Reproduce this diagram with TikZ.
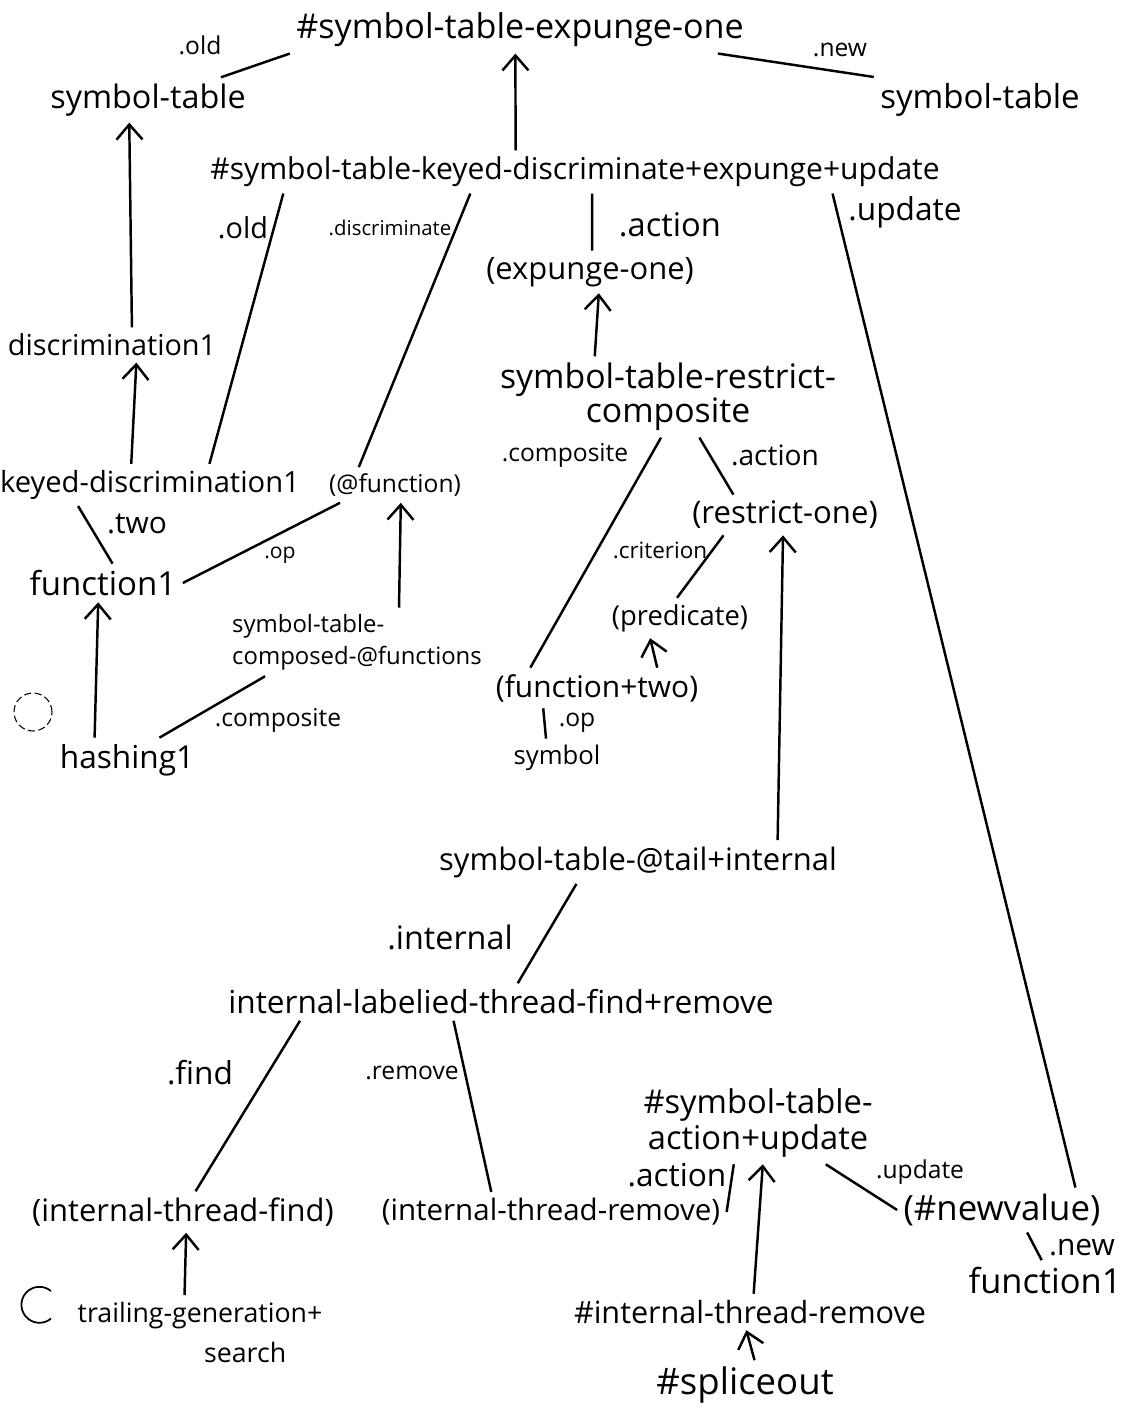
\documentclass[tikz,border=0pt]{standalone}
\usepackage{fontspec}
\setmainfont{Open Sans}
\usepackage{tikz}
\usetikzlibrary{calc,arrows.meta}

\begin{document}
\begin{tikzpicture}[scale=0.2, line width=0.7pt, >={Straight Barb[length=1.5mm,width=2.6mm]},
  obj/.style={font=\fontsize{#1}{11}\selectfont}, obj/.default=8.6,
  lbl/.style={font=\fontsize{#1}{8}\selectfont}, lbl/.default=7]
\tikzstyle{every node}+=[inner sep=1.5pt]
\useasboundingbox (0,0) rectangle (56.45,-70.55);
\node [obj=9.7] (exp) at (26.0,-1.5) {\#symbol-table-expunge-one};
\node [obj=9.2] (stold) at (7.4,-5.0) {symbol-table};
\node [obj=9.4] (stnew) at (49.0,-5.0) {symbol-table};
\node [obj=8.55] (kd) at (28.75,-8.6) {\#symbol-table-keyed-discriminate+expunge+update};
\node [obj=8.8] (expone) at (29.5,-13.6) {(expunge-one)};
\node [obj=8.2] (disc1) at (5.6,-17.25) {discrimination1};
\node [font=\fontsize{9.6}{9.8}\selectfont, align=center] (strc) at (33.4,-19.85) {symbol-table-restrict-\\composite};
\node [obj=8.3] (keyd1) at (7.5,-24.25) {keyed-discrimination1};
\node [obj=7] (atfun) at (19.75,-24.25) {(@function)};
\node [obj=8.85] (resone) at (39.25,-25.75) {(restrict-one)};
\node [obj=9.4] (fun1) at (5.15,-29.15) {function1};
\node [font=\fontsize{6.8}{9}\selectfont, align=left] (stcf) at (17.85,-32.1) {symbol-table-\\composed-@functions};
\node [obj=7.8] (pred) at (34.0,-30.9) {(predicate)};
\node [obj=8.5] (fntwo) at (29.85,-34.4) {(function+two)};
\node [obj=7.3] (symbol) at (27.85,-37.9) {symbol};
\node [obj=9] (hash1) at (6.35,-38.0) {hashing1};
\node [obj=8.8] (sttail) at (31.9,-43.1) {symbol-table-@tail+internal};
\node [obj=9] (iltf) at (25.05,-50.1) {internal-labelied-thread-find+remove};
\node [obj=8.8] (itfind) at (9.15,-60.6) {(internal-thread-find)};
\node [obj=8.4] (itrem) at (27.55,-60.6) {(internal-thread-remove)};
\node [font=\fontsize{9.3}{10.5}\selectfont, align=center] (stau) at (37.9,-56.15) {\#symbol-table-\\action+update};
\node [obj=9.9] (newval) at (50.1,-60.5) {(\#newvalue)};
\node [obj=9.8] (fun1b) at (52.25,-64.0) {function1};
\node [font=\fontsize{7.6}{11.4}\selectfont, align=left] (tgs) at (10.0,-66.6) {trailing-generation+\\\hspace*{36pt}search};
\node [obj=8.7] (itremh) at (37.5,-65.6) {\#internal-thread-remove};
\node [obj=10.4] (splice) at (37.25,-69.25) {\#spliceout};
\node [lbl] (l1) at (10.0,-2.25) {.old};
\node [lbl] (l2) at (42.0,-2.5) {.new};
\node [lbl=8.2] (l3) at (12.15,-11.4) {.old};
\node [lbl=5.8] (l4) at (19.5,-11.4) {.discriminate};
\node [lbl=9.3] (l5) at (33.5,-11.25) {.action};
\node [lbl=9] (l6) at (45.25,-10.6) {.update};
\node [lbl=8.5] (l7) at (6.85,-26.2) {.two};
\node [lbl=6] (l8) at (14.0,-27.75) {.op};
\node [lbl] (l9) at (13.9,-36.0) {.composite};
\node [lbl] (l10) at (28.25,-22.75) {.composite};
\node [lbl=8] (l11) at (38.75,-22.75) {.action};
\node [lbl=6.4] (l12) at (33.0,-27.5) {.criterion};
\node [lbl] (l13) at (28.85,-36.15) {.op};
\node [lbl=9.2] (l14) at (22.5,-46.85) {.internal};
\node [lbl=9] (l15) at (10.0,-53.65) {.find};
\node [lbl] (l16) at (20.6,-53.65) {.remove};
\node [lbl=9] (l17) at (33.85,-58.75) {.action};
\node [lbl] (l18) at (46.0,-58.6) {.update};
\node [lbl=8.5] (l19) at (54.1,-62.4) {.new};
\draw ($(stold.north west)!.85!(stold.north east)$) -- (exp.south west);
\draw ($(exp.south west)!.93!(exp.south east)$) -- (stnew.north west);
\draw [->] ($(kd.north west)!.42!(kd.north east)$) -- ($(exp.south west)!.49!(exp.south east)$);
\draw ($(kd.south west)!.107!(kd.south east)$) -- ($(keyd1.north west)!.69!(keyd1.north east)$);
\draw ($(kd.south west)!.359!(kd.south east)$) -- ($(atfun.north west)!.25!(atfun.north east)$);
\draw ($(kd.south west)!.523!(kd.south east)$) -- ($(expone.north west)!.51!(expone.north east)$);
\draw ($(kd.south west)!.847!(kd.south east)$) -- ($(newval.north west)!.85!(newval.north east)$);
\draw [->] ($(disc1.north west)!.59!(disc1.north east)$) -- ($(stold.south west)!.41!(stold.south east)$);
\draw [->] ($(keyd1.north west)!.44!(keyd1.north east)$) -- ($(disc1.south west)!.61!(disc1.south east)$);
\draw [->] ($(strc.north west)!.29!(strc.north east)$) -- ($(expone.south west)!.54!(expone.south east)$);
\draw ($(strc.south west)!.48!(strc.south east)$) -- ($(fntwo.north west)!.19!(fntwo.north east)$);
\draw ($(strc.south west)!.59!(strc.south east)$) -- ($(resone.north west)!.24!(resone.north east)$);
\draw ($(resone.south west)!.19!(resone.south east)$) -- ($(pred.north west)!.48!(pred.north east)$);
\draw [->] ($(fntwo.north west)!.78!(fntwo.north east)$) -- ($(pred.south west)!.30!(pred.south east)$);
\draw ($(fntwo.south west)!.25!(fntwo.south east)$) -- ($(symbol.north west)!.39!(symbol.north east)$);
\draw ($(keyd1.south west)!.27!(keyd1.south east)$) -- ($(fun1.north west)!.56!(fun1.north east)$);
\draw (fun1.east) -- ($(atfun.south west)!.12!(atfun.south east)$);
\draw [->] ($(stcf.north west)!.66!(stcf.north east)$) -- ($(atfun.south west)!.54!(atfun.south east)$);
\draw [->] ($(hash1.north west)!.28!(hash1.north east)$) -- ($(fun1.south west)!.47!(fun1.south east)$);
\draw ($(hash1.north west)!.72!(hash1.north east)$) -- ($(stcf.south west)!.15!(stcf.south east)$);
\draw [->] ($(sttail.north west)!.84!(sttail.north east)$) -- ($(resone.south west)!.49!(resone.south east)$);
\draw ($(sttail.south west)!.35!(sttail.south east)$) -- ($(iltf.north west)!.53!(iltf.north east)$);
\draw ($(iltf.south west)!.14!(iltf.south east)$) -- ($(itfind.north west)!.54!(itfind.north east)$);
\draw ($(iltf.south west)!.415!(iltf.south east)$) -- ($(itrem.north west)!.33!(itrem.north east)$);
\draw [->] ($(tgs.north west)!.44!(tgs.north east)$) -- ($(itfind.south west)!.51!(itfind.south east)$);
\draw (itrem.east) -- ($(stau.south west)!.4!(stau.south east)$);
\draw [->] ($(itremh.north west)!.51!(itremh.north east)$) -- ($(stau.south west)!.52!(stau.south east)$);
\draw ($(stau.south west)!.78!(stau.south east)$) -- (newval.west);
\draw ($(newval.south west)!.62!(newval.south east)$) -- ($(fun1b.north west)!.48!(fun1b.north east)$);
\draw [->] ($(splice.north west)!.55!(splice.north east)$) -- ($(itremh.south west)!.49!(itremh.south east)$);
\draw [line width=0.3pt, dash pattern=on 2pt off 1pt] (1.65,-35.6) circle (0.95);
\draw [line width=0.5pt] (2.55,-64.55) arc (50:310:0.9);
\end{tikzpicture}
\end{document}
